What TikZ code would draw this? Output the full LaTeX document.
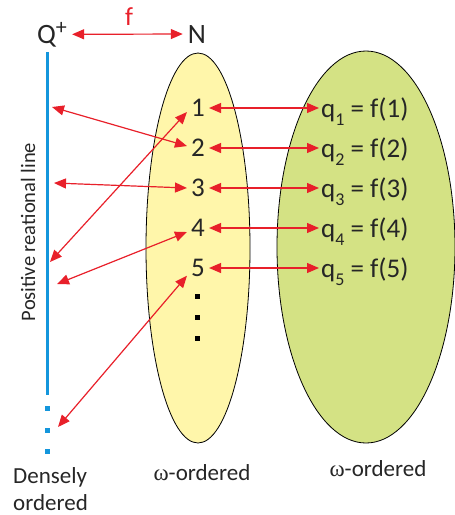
\documentclass[tikz,border=0pt]{standalone}
\usepackage{fontspec}
\setmainfont{Carlito}
\newfontfamily\grk{Liberation Serif}
\usetikzlibrary{arrows.meta}
\definecolor{myred}{RGB}{232,32,42}
\definecolor{myblue}{RGB}{20,150,220}
\definecolor{ylw}{RGB}{255,246,170}
\definecolor{grn}{RGB}{212,226,132}
\newcommand\qsub[1]{\raisebox{-8pt}{\fontsize{18}{18}\selectfont #1}}
\begin{document}
\begin{tikzpicture}[x=1pt,y=-1pt,
  dbl/.style={myred, line width=1.2pt, {Triangle[length=12pt,width=10pt]}-{Triangle[length=12pt,width=10pt]}},
  num/.style={font=\fontsize{27}{27}\selectfont, inner sep=4pt, text=black!85},
  ql/.style={font=\fontsize{27}{27}\selectfont, anchor=base west, inner sep=2pt, text=black!85},
  lab/.style={font=\fontsize{23}{27}\selectfont, inner sep=0pt, text=black!85},
  big/.style={font=\fontsize{28}{28}\selectfont, inner sep=5pt, anchor=base, text=black!85},
  dot/.style={minimum size=5pt, inner sep=0pt, draw=none}]
\useasboundingbox (0,0) rectangle (455,515);
% ellipses
\draw[fill=ylw, line width=0.8pt] (198,248) ellipse [x radius=52pt, y radius=195pt];
\draw[fill=grn, line width=0.8pt] (366,247) ellipse [x radius=89pt, y radius=196pt];
% positive rational line
\draw[myblue, line width=3pt] (47,52) -- (47,395);
\node[dot, fill=myblue] (b1) at (47,408) {};
\node[dot, fill=myblue] (b2) at (47,430) {};
\node[dot, fill=myblue] (b3) at (47,451) {};
\node[rotate=90, font=\fontsize{20.5}{20.5}\selectfont, text=black!85] (pl) at (28,232) {Positive reational line};
% header
\node[big] (qp) at (52,43) {Q\raisebox{9pt}{\fontsize{22}{22}\selectfont +}};
\node[big] (nN) at (197,43) {N};
\node[font=\fontsize{26}{26}\selectfont, text=myred] (f) at (129,17) {f};
\draw[dbl] (qp.east) -- (nN.west);
% numbers
\node[num] (n1) at (198,108) {1};
\node[num] (n2) at (198,148) {2};
\node[num] (n3) at (198,188) {3};
\node[num] (n4) at (198,228) {4};
\node[num] (n5) at (198,268) {5};
\node[dot, fill=black] (d1) at (197,296) {};
\node[dot, fill=black] (d2) at (197,317) {};
\node[dot, fill=black] (d3) at (197,338) {};
% q labels
\node[ql] (q1) at (319,117) {q\qsub{1} = f(1)};
\node[ql] (q2) at (319,157) {q\qsub{2} = f(2)};
\node[ql] (q3) at (319,197) {q\qsub{3} = f(3)};
\node[ql] (q4) at (319,237) {q\qsub{4} = f(4)};
\node[ql] (q5) at (319,277) {q\qsub{5} = f(5)};
\foreach \i in {1,...,5}{\draw[dbl] (n\i.east) -- (n\i.east -| q\i.west);}
% points on line
\coordinate (a1) at (50,262);
\coordinate (a2) at (52,107);
\coordinate (a3) at (54,183);
\coordinate (a4) at (57,284);
\coordinate (a5) at (58,427);
\draw[dbl] (n1.200) -- (a1);
\draw[dbl] (n2.170) -- (a2);
\draw[dbl] (n3.west) -- (a3);
\draw[dbl] (n4.200) -- (a4);
\draw[dbl] (n5.215) -- (a5);
% bottom labels
\node[lab, anchor=base west] (l1) at (13,483) {Densely};
\node[lab, anchor=base west] (l2) at (13,510) {ordered};
\node[lab, anchor=base] (l3) at (202,480) {{\grk ω}-ordered};
\node[lab, anchor=base] (l4) at (378,476) {{\grk ω}-ordered};
\end{tikzpicture}
\end{document}
